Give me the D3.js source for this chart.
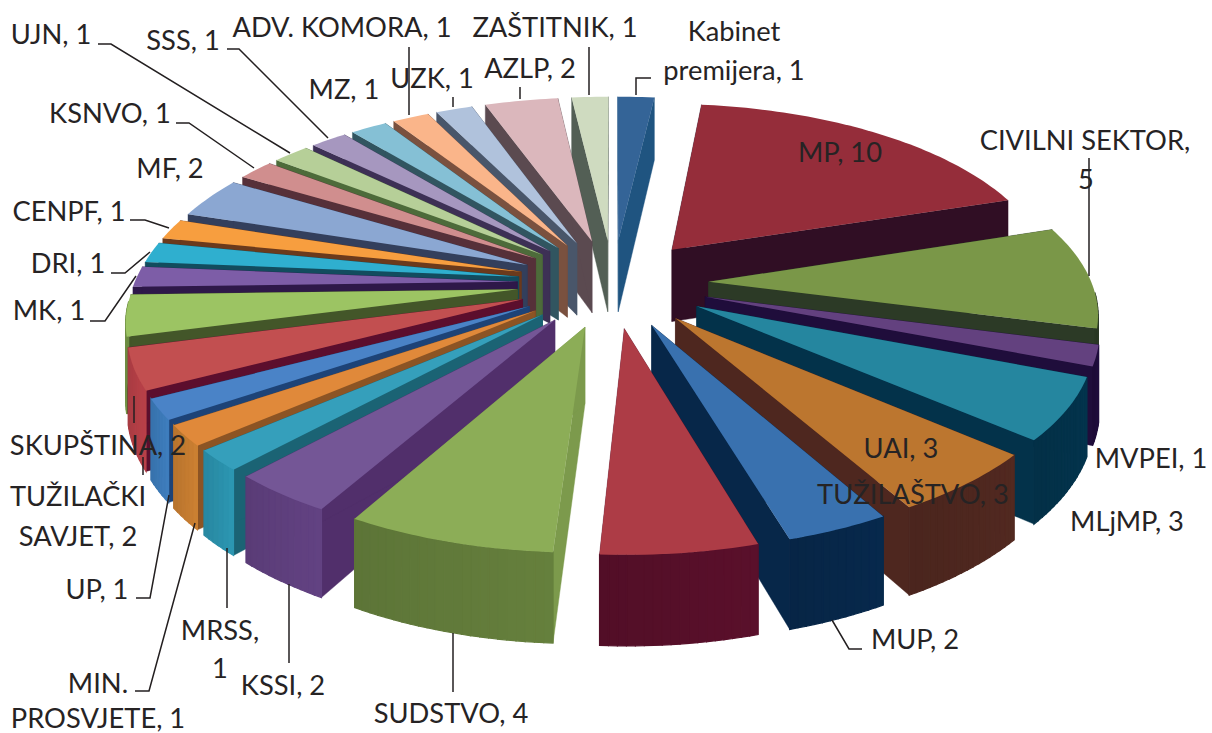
<!DOCTYPE html>
<html><head><meta charset="utf-8">
<script src="https://d3js.org/d3.v7.min.js"></script>
<style>html,body{margin:0;padding:0;background:#fff}svg{display:block}</style>
</head><body><svg id="c" width="1212" height="733"></svg>
<script>
// ---- data (clockwise from 12 o'clock) ----
const categories = ["Kabinet premijera","MP","CIVILNI SEKTOR","MVPEI","MLjMP","UAI","MUP","TUŽILAŠTVO","SUDSTVO","KSSI","MRSS","MIN. PROSVJETE","UP","TUŽILAČKI SAVJET","SKUPŠTINA","MK","DRI","CENPF","MF","KSNVO","UJN","SSS","MZ","UZK","ADV. KOMORA","AZLP","ZAŠTITNIK"];
const values = [1,10,5,1,3,3,2,3,4,2,1,1,1,2,2,1,1,1,2,1,1,1,1,1,1,2,1];
const topColors = ["#346497","#952D3A","#7A9748","#63417F","#25869F","#BC762F","#3971AF","#AD3C46","#8CAD57","#745696","#359FBB","#E0893A","#4A83C7","#C24F50","#9CC463","#7D5DA7","#2FAFCF","#F79E3F","#8BA7D2","#D08E8E","#B6CF98","#A697BF","#85C0D5","#FAB58A","#B0C2DC","#DBB7BC","#CFDBC0"];
const edgeColors = ["#1F5480","#300E24","#2C3A26","#1F0D3B","#03324A","#4E271F","#072749","#5C0F27","#7C9A4C","#512F6B","#1B6374","#8C5424","#1D4377","#5C0E2D","#435629","#2E1849","#124C5E","#6B3A1C","#333F5C","#563039","#4D6B3A","#3D3055","#315560","#7A513F","#49566A","#5B4A50","#535F55"];
const rimColors = ["#1F5480","#300E24","#2C3A26","#1F0D3B","#03324A","#4E271F","#072749","#560F29","#617A3A","#5E3F7C","#2A8FA9","#C27A30","#3B78B5","#B03E45","#6F8F44","#4F3A70","#1F7F98","#B87430","#5F7AA5","#A66A6A","#8BA570","#7A6C96","#5F98AC","#C88B66","#8497B0","#AB8B90","#A0AD92"];
const labelLines = [["Kabinet","premijera, 1"],["MP, 10"],["CIVILNI SEKTOR,","5"],["MVPEI, 1"],["MLjMP, 3"],["UAI, 3"],["MUP, 2"],["TUŽILAŠTVO, 3"],["SUDSTVO, 4"],["KSSI, 2"],["MRSS,","1"],["MIN.","PROSVJETE, 1"],["UP, 1"],["TUŽILAČKI","SAVJET, 2"],["SKUPŠTINA, 2"],["MK, 1"],["DRI, 1"],["CENPF, 1"],["MF, 2"],["KSNVO, 1"],["UJN, 1"],["SSS, 1"],["MZ, 1"],["UZK, 1"],["ADV. KOMORA, 1"],["AZLP, 2"],["ZAŠTITNIK, 1"]];

// ---- label layout: centre x and baseline y of each line ----
const labelAnchors = [[734,41,734,80],[840,162],[1085,150,1086,189],[1151,468],[1127,531],[901,458],[915,649],[913,504],[451,723],[283,695],[220,640,220,678],[98,693,98,728],[97,599],[78,506,78,546],[98,455],[49,320],[68,273],[69,221],[170,178],[110,123],[51,44],[183,50],[344,99],[432,88],[342,37],[530,78],[555,37]];
const leaderPaths = [[[651,78],[636,78],[636,95]],null,[[1089,158],[1089,276]],null,null,null,[[832,620],[849,649],[862,649]],null,[[453,633],[453,692]],[[289,584],[289,663]],[[227,548],[227,608]],[[135,691],[149,691],[195,523]],[[136,598],[150,598],[169,495]],[[143,457],[143,475]],[[134,396],[134,423]],[[90,321],[105,321],[136,276]],[[111,273],[125,273],[150,252]],[[130,220],[145,220],[169,228]],null,[[176,123],[189,123],[254,168]],[[98,44],[111,44],[290,153]],[[227,49],[239,49],[328,138]],null,[[453,97],[453,107]],[[409,47],[409,115]],[[520,87],[520,99]],[[589,47],[589,95]]];

// ---- 3-D pie projection ----
const cx=613, cy=283, kx=383, ky=177, persp=0.15, depth=74, explode=0.25, rimCutoff=-0.06;
const proj=(X,Y,down=0)=>{const s=1/(1+persp*Y);return [cx+kx*X*s, cy-ky*Y*s+down*depth*s];};

const pie=d3.pie().sort(null).value((d,i)=>values[i]);
const arcs=pie(values).map((a,i)=>{const mid=(a.startAngle+a.endAngle)/2;
  return {i,a0:a.startAngle,a1:a.endAngle,mid,ox:explode*Math.sin(mid),oy:explode*Math.cos(mid)};});
const pt=(d,ang,down=0)=>proj(d.ox+Math.sin(ang),d.oy+Math.cos(ang),down);
const tip=(d,down=0)=>proj(d.ox,d.oy,down);
const line=d3.line();
const arcAngles=d=>{const n=Math.max(4,Math.ceil((d.a1-d.a0)/0.02));return d3.range(n+1).map(k=>d.a0+(d.a1-d.a0)*k/n);};

const svg=d3.select("#c");
const drawOrder=arcs.slice().sort((a,b)=>b.oy-a.oy);
const pieG=svg.append("g");
drawOrder.forEach(d=>{
  const g=pieG.append("g");
  const angs=arcAngles(d);
  // radial walls
  [d.a0,d.a1].forEach(ang=>{
    const poly=[tip(d),pt(d,ang),pt(d,ang,1),tip(d,1)];
    g.append("path").attr("d",line(poly)+"Z").attr("fill",edgeColors[d.i]).attr("stroke",edgeColors[d.i]).attr("stroke-width",0.4);
  });
  // outer rim, segment by segment, only where it faces the viewer
  d3.pairs(angs).forEach(([p,q],k,all)=>{
    if(Math.cos((p+q)/2)>rimCutoff) return;
    const t=k/Math.max(1,all.length-1);
    const col=d3.color(rimColors[d.i]).brighter(0.25*(0.5-t)).formatHex();
    const poly=[pt(d,p),pt(d,q),pt(d,q,1),pt(d,p,1)];
    g.append("path").attr("d",line(poly)+"Z").attr("fill",col).attr("stroke",col).attr("stroke-width",1.2);
  });
  // top face
  const poly=[tip(d)].concat(angs.map(a=>pt(d,a)));
  g.append("path").attr("d",line(poly)+"Z").attr("fill",topColors[d.i]);
});

// leaders
const leadG=svg.append("g").attr("fill","none").attr("stroke","#231F20").attr("stroke-width",1.5);
leaderPaths.forEach(p=>{if(p)leadG.append("path").attr("d",line(p));});

// labels
const textG=svg.append("g").attr("font-family","Lato, 'Noto Sans', sans-serif").attr("font-size",27.3).attr("fill","#262324").attr("text-anchor","middle");
labelLines.forEach((lines,i)=>{
  lines.forEach((txt,j)=>{
    textG.append("text").attr("x",labelAnchors[i][j*2]).attr("y",labelAnchors[i][j*2+1]).text(txt);
  });
});
</script></body></html>
